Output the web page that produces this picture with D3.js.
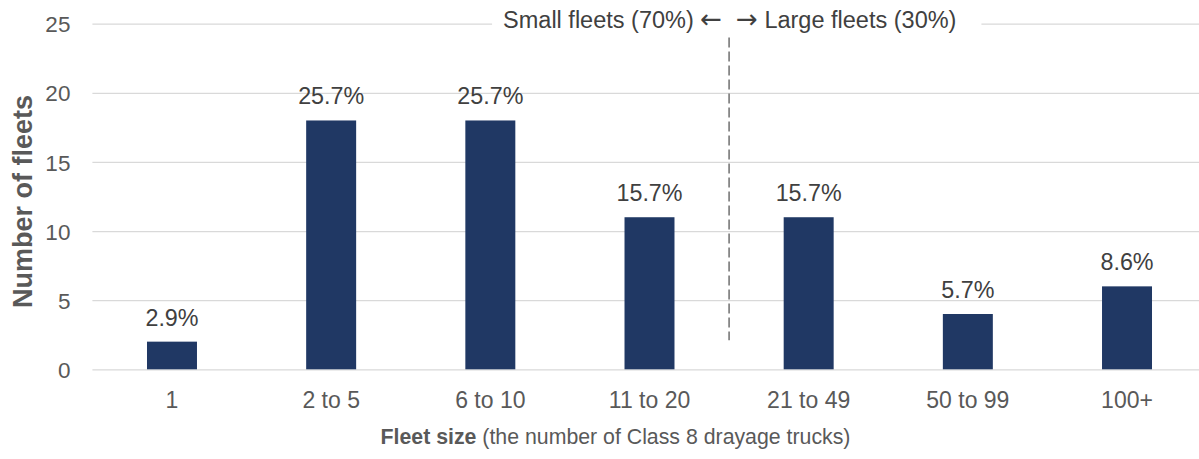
<!DOCTYPE html>
<html>
<head>
<meta charset="utf-8">
<script src="https://cdn.jsdelivr.net/npm/d3@7"></script>
<style>
  html, body { margin: 0; padding: 0; background: #fff; }
  svg { display: block; font-family: "Liberation Sans", Arial, sans-serif; }
</style>
</head>
<body>
<svg id="chart" width="1199" height="459"></svg>
<script>
// Fleet-size distribution of drayage fleets
const categories = ["1", "2 to 5", "6 to 10", "11 to 20", "21 to 49", "50 to 99", "100+"];
const fleetCounts = [2, 18, 18, 11, 11, 4, 6];
const shareLabels = ["2.9%", "25.7%", "25.7%", "15.7%", "15.7%", "5.7%", "8.6%"];
const yTicks = [0, 5, 10, 15, 20, 25];
const dividerAfter = "11 to 20";
const dividerSpan = [2.1, 24];
const leftNote = "Small fleets (70%) ";
const rightNote = " Large fleets (30%)";

const svg = d3.select("#chart");
const plot = { left: 92.4, right: 1206.6, top: 23.7, bottom: 369.3 };

const x = d3.scaleBand()
  .domain(categories)
  .range([plot.left, plot.right])
  .paddingInner(0.686)
  .paddingOuter(0.343);

const y = d3.scaleLinear()
  .domain([0, 25])
  .range([plot.bottom, plot.top]);

// horizontal gridlines + y tick labels
const yAxis = d3.axisLeft(y)
  .tickValues(yTicks)
  .tickSize(-(plot.right - plot.left))
  .tickPadding(22)
  .tickFormat(d3.format("d"));

const gy = svg.append("g")
  .attr("transform", `translate(${plot.left},0)`)
  .call(yAxis);
gy.select(".domain").remove();
gy.selectAll(".tick line").attr("stroke", "#d9d9d9").attr("stroke-width", 1.3);
gy.selectAll(".tick text")
  .attr("fill", "#595959")
  .attr("font-size", 22.5)
  .attr("dy", "0.36em");

// bars
svg.append("g").selectAll("rect")
  .data(categories)
  .join("rect")
  .attr("x", d => x(d))
  .attr("width", x.bandwidth())
  .attr("y", (d, i) => y(fleetCounts[i]))
  .attr("height", (d, i) => y(0) - y(fleetCounts[i]))
  .attr("fill", "#203864");

// value labels
svg.append("g").selectAll("text")
  .data(categories)
  .join("text")
  .attr("x", d => x(d) + x.bandwidth() / 2)
  .attr("y", (d, i) => y(fleetCounts[i]) - 16)
  .attr("text-anchor", "middle")
  .attr("fill", "#404040")
  .attr("font-size", 23.3)
  .text((d, i) => shareLabels[i]);

// category axis
const xAxis = d3.axisBottom(x).tickSize(0).tickPadding(22);
const gx = svg.append("g")
  .attr("transform", `translate(0,${plot.bottom})`)
  .call(xAxis);
gx.select(".domain").remove();
gx.selectAll(".tick text")
  .attr("fill", "#595959")
  .attr("font-size", 23)
  .attr("dy", "0.71em");

// axis titles
const xTitle = svg.append("text")
  .attr("x", 615.5)
  .attr("y", 444)
  .attr("text-anchor", "middle")
  .attr("fill", "#595959")
  .attr("font-size", 21.3);
xTitle.append("tspan").attr("font-weight", "bold").text("Fleet size");
xTitle.append("tspan").text(" (the number of Class 8 drayage trucks)");

svg.append("text")
  .attr("transform", `translate(32,${(plot.top + plot.bottom) / 2 + 5}) rotate(-90)`)
  .attr("text-anchor", "middle")
  .attr("fill", "#595959")
  .attr("font-size", 27)
  .attr("font-weight", "bold")
  .text("Number of fleets");

// small / large fleet divider
const iDiv = categories.indexOf(dividerAfter);
const divX = (x(categories[iDiv]) + x.bandwidth() + x(categories[iDiv + 1])) / 2;

const noteG = svg.append("g");
const noteBg = noteG.append("rect").attr("fill", "#fff");
const noteL = noteG.append("text")
  .attr("x", divX - 7)
  .attr("y", 28)
  .attr("text-anchor", "end")
  .attr("fill", "#404040")
  .attr("font-size", 23.5);
noteL.append("tspan").text(leftNote);
noteL.append("tspan").attr("font-family", "DejaVu Sans").attr("font-size", 26).text("\u2190");
const noteR = noteG.append("text")
  .attr("x", divX + 7)
  .attr("y", 28)
  .attr("text-anchor", "start")
  .attr("fill", "#404040")
  .attr("font-size", 23.5);
noteR.append("tspan").attr("font-family", "DejaVu Sans").attr("font-size", 26).text("\u2192");
noteR.append("tspan").text(rightNote);
const bl = noteL.node().getBBox();
const br = noteR.node().getBBox();
noteBg
  .attr("x", bl.x - 11)
  .attr("y", plot.top - 6)
  .attr("width", br.x + br.width + 25 - (bl.x - 11))
  .attr("height", 12);

svg.append("line")
  .attr("x1", divX).attr("x2", divX)
  .attr("y1", y(dividerSpan[1])).attr("y2", y(dividerSpan[0]))
  .attr("stroke", "#6f6f6f")
  .attr("stroke-width", 1.5)
  .attr("stroke-dasharray", "10,4");
</script>
</body>
</html>
